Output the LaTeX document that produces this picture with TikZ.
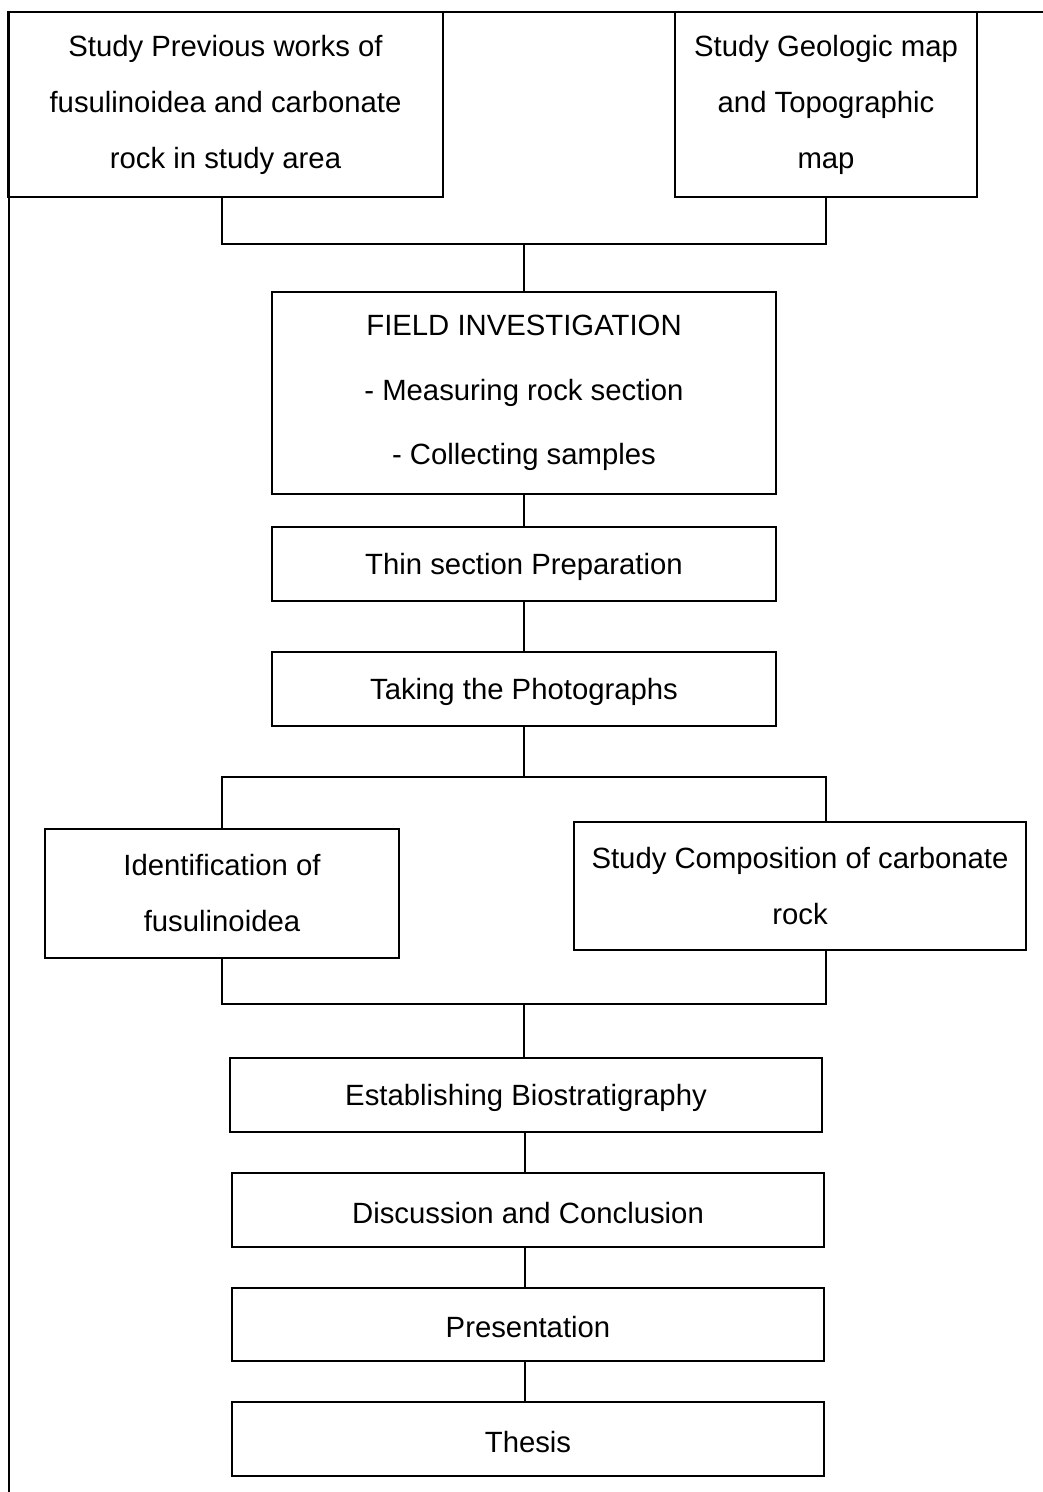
\documentclass[tikz,border=0pt]{standalone}
\usepackage{fontspec}
\setmainfont{Liberation Sans}
\begin{document}
\begin{tikzpicture}[x=1pt,y=-1pt,
  box/.style={draw, line width=1.6pt, inner sep=0pt, align=center,
    font=\fontsize{29.3}{56}\selectfont,
    execute at begin node={\rule{0pt}{27pt}}},
  wire/.style={line width=1.6pt}]
\useasboundingbox (0,0) rectangle (1043,1492);
% frame
\draw[wire] (8,12) -- (1043,12);
\draw[wire] (9,12) -- (9,1492);
% nodes
\node[box, minimum width=435pt, minimum height=185pt] (prev) at (225.5,104.5)
  {Study Previous works of\\fusulinoidea and carbonate\\rock in study area};
\node[box, minimum width=302pt, minimum height=185pt] (geo) at (826,104.5)
  {Study Geologic map\\and Topographic\\map};
\node[box, minimum width=504pt, minimum height=202pt,
  font=\fontsize{29.3}{64.5}\selectfont] (field) at (524,393)
  {FIELD INVESTIGATION\\- Measuring rock section\\- Collecting samples};
\node[box, minimum width=504pt, minimum height=74pt] (thin) at (524,564)
  {Thin section Preparation};
\node[box, minimum width=504pt, minimum height=74pt] (photo) at (524,689)
  {Taking the Photographs};
\node[box, minimum width=354pt, minimum height=129pt] (ident) at (222,893.5)
  {Identification of\\fusulinoidea};
\node[box, minimum width=452pt, minimum height=128pt] (comp) at (800,886)
  {Study Composition of carbonate\\rock};
\node[box, minimum width=592pt, minimum height=74pt] (bio) at (526,1095)
  {Establishing Biostratigraphy};
\node[box, minimum width=592pt, minimum height=74pt] (disc) at (528,1210)
  {Discussion and Conclusion};
\node[box, minimum width=592pt, minimum height=73pt] (pres) at (528,1324.5)
  {Presentation};
\node[box, minimum width=592pt, minimum height=74pt] (thesis) at (528,1439)
  {Thesis};
% connector coordinates
\coordinate (j1) at (524,244);
\coordinate (j2) at (524,777);
\coordinate (cr) at (826,950);
\coordinate (ct) at (826,822);
\coordinate (j3) at (524,1004);
% connectors
\draw[wire] (prev.south -| 222,0) |- (j1) -| (geo.south);
\draw[wire] (j1) -- (field.north -| j1);
\draw[wire] (field.south -| 524,0) -- (thin.north -| 524,0);
\draw[wire] (thin.south -| 524,0) -- (photo.north -| 524,0);
\draw[wire] (photo.south -| 524,0) -- (j2);
\draw[wire] (ident.north) |- (j2) -| (ct);
\draw[wire] (ident.south) |- (j3) -| (cr);
\draw[wire] (j3) -- (bio.north -| j3);
\draw[wire] (bio.south -| 525,0) -- (disc.north -| 525,0);
\draw[wire] (disc.south -| 525,0) -- (pres.north -| 525,0);
\draw[wire] (pres.south -| 525,0) -- (thesis.north -| 525,0);
\end{tikzpicture}
\end{document}
